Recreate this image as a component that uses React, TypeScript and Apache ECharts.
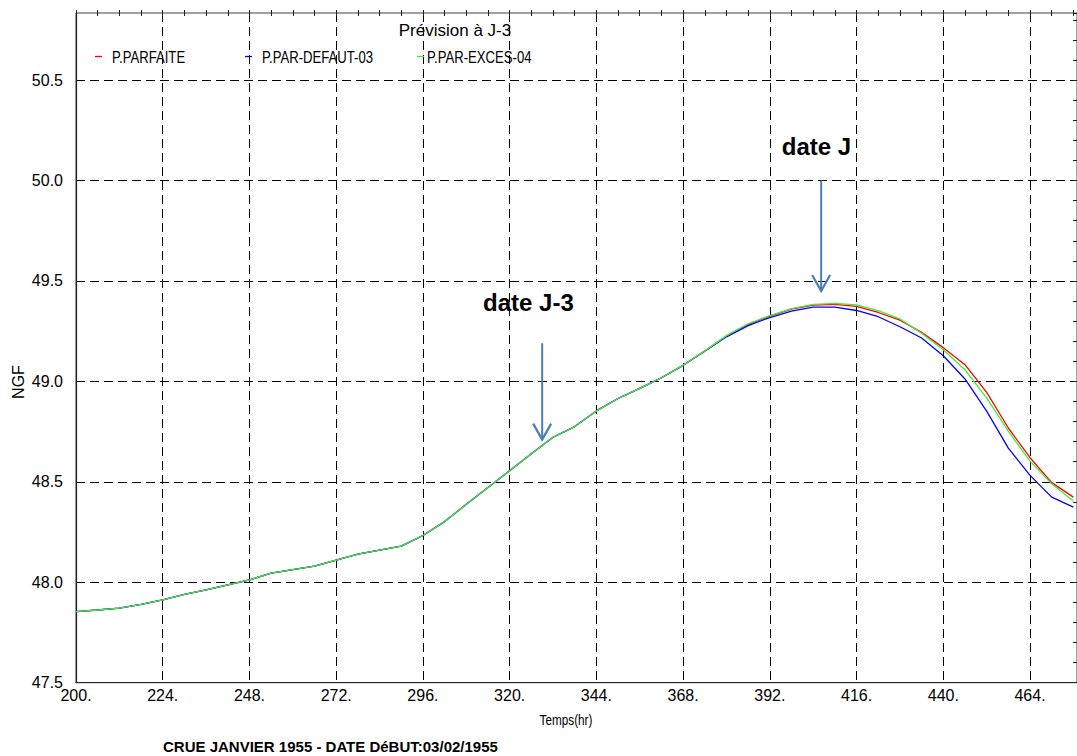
import React, { useEffect, useRef } from "react";
import * as echarts from "echarts";

// Time (hours)
const hours = [
  200, 206, 212, 218, 224, 230, 236, 242, 248, 254, 260, 266, 272, 278, 284, 290,
  296, 302, 308, 314, 320, 326, 332, 338, 344, 350, 356, 362, 368, 374, 380, 386,
  392, 398, 404, 410, 416, 422, 428, 434, 440, 446, 452, 458, 464, 470, 476,
];

// Water level (NGF)
const parfaite = [
  47.854, 47.862, 47.871, 47.89, 47.912, 47.94, 47.962, 47.987, 48.012, 48.045, 48.063, 48.08, 48.11, 48.14, 48.16, 48.18,
  48.233, 48.302, 48.388, 48.472, 48.555, 48.64, 48.722, 48.775, 48.853, 48.915, 48.965, 49.018, 49.08, 49.152, 49.226, 49.284,
  49.325, 49.36, 49.38, 49.383, 49.373, 49.343, 49.305, 49.244, 49.168, 49.083, 48.945, 48.768, 48.62, 48.496, 48.424,
];
const parDefaut = [
  47.854, 47.862, 47.871, 47.89, 47.912, 47.94, 47.962, 47.987, 48.012, 48.045, 48.063, 48.08, 48.11, 48.14, 48.16, 48.18,
  48.233, 48.302, 48.388, 48.472, 48.555, 48.64, 48.722, 48.775, 48.853, 48.915, 48.965, 49.018, 49.08, 49.15, 49.222, 49.278,
  49.318, 49.35, 49.37, 49.37, 49.353, 49.322, 49.272, 49.216, 49.128, 49.012, 48.852, 48.668, 48.532, 48.424, 48.374,
];
const parExces = [
  47.854, 47.862, 47.871, 47.89, 47.912, 47.94, 47.962, 47.987, 48.012, 48.045, 48.063, 48.08, 48.11, 48.14, 48.16, 48.18,
  48.233, 48.302, 48.388, 48.472, 48.555, 48.64, 48.722, 48.775, 48.853, 48.915, 48.965, 49.018, 49.08, 49.152, 49.228, 49.287,
  49.328, 49.362, 49.383, 49.388, 49.381, 49.352, 49.311, 49.24, 49.158, 49.058, 48.918, 48.752, 48.603, 48.49, 48.404,
];

const seriesNames = ["P.PARFAITE", "P.PAR-DEFAUT-03", "P.PAR-EXCES-04"];
const seriesColors = ["#ff0000", "#0000ff", "#3fef3f"];
const seriesValues = [parfaite, parDefaut, parExces];
const legendIconX = [95, 245, 417];
const legendTextX = [112, 262, 427];

// Axis ranges
const xMin = 200;
const xMax = 477;
const xStep = 24;
const yMin = 47.5;
const yMax = 50.834;
const yStep = 0.5;

const chartTitle = "Prévision à J-3";
const xAxisTitle = "Temps(hr)";
const yAxisTitle = "NGF";
const caption = "CRUE JANVIER 1955 - DATE DéBUT:03/02/1955";

// Annotations (data coordinates)
const arrowDefs = [
  { t: 329, from: 49.19, to: 48.71 },
  { t: 406.2, from: 50.0, to: 49.45 },
];
const noteDefs = [
  { text: "date J-3", t: 325.2, v: 49.392 },
  { text: "date J", t: 404.9, v: 50.169 },
];

const FONT = "'Liberation Sans', Arial, Helvetica, sans-serif";

export default function App() {
  const ref = useRef<HTMLDivElement>(null);

  useEffect(() => {
    if (!ref.current) return;
    const chart = echarts.init(ref.current, null, { renderer: "svg" });

    const baseX = {
      type: "value" as const,
      min: xMin,
      max: xMax,
      gridIndex: 0,
    };
    const baseY = {
      type: "value" as const,
      min: yMin,
      max: yMax,
      gridIndex: 0,
    };

    const gridLine = { color: "#000", type: [9, 5], width: 1 };

    const option: any = {
      animation: false,
      backgroundColor: "#ffffff",
      grid: {
        left: 76,
        top: 13,
        right: 0,
        bottom: 73.3,
        show: true,
        borderColor: "#444",
        borderWidth: 1,
        backgroundColor: "transparent",
      },
      xAxis: [
        {
          ...baseX,
          interval: xStep,
          axisLine: { show: true, lineStyle: { color: "#222", width: 1.2 } },
          axisTick: { show: false },
          axisLabel: {
            show: true,
            fontSize: 16,
            fontFamily: FONT,
            color: "#000",
            margin: 5,
            showMaxLabel: false,
            formatter: (v: number) => `${v}.`,
          },
          splitLine: {
            show: true,
            showMinLine: false,
            showMaxLine: false,
            lineStyle: gridLine,
          },
        },
        {
          ...baseX,
          interval: 6,
          axisLine: { show: false },
          axisTick: { show: true, inside: true, length: 3, lineStyle: { color: "#222" } },
          axisLabel: { show: false },
          splitLine: { show: false },
        },
        {
          ...baseX,
          interval: 6,
          axisLine: { show: false },
          axisTick: { show: true, inside: false, length: 3, lineStyle: { color: "#222" } },
          axisLabel: { show: false },
          splitLine: { show: false },
        },
      ],
      yAxis: [
        {
          ...baseY,
          interval: yStep,
          axisLine: { show: true, lineStyle: { color: "#222", width: 1.2 } },
          axisTick: { show: false },
          axisLabel: {
            show: true,
            fontSize: 16,
            fontFamily: FONT,
            color: "#000",
            margin: 13,
            showMaxLabel: false,
            formatter: (v: number) => v.toFixed(1),
          },
          splitLine: {
            show: true,
            showMinLine: false,
            showMaxLine: false,
            lineStyle: gridLine,
          },
        },
        {
          ...baseY,
          interval: 0.1,
          axisLine: { show: false },
          axisTick: { show: true, inside: true, length: 4, lineStyle: { color: "#222" } },
          axisLabel: { show: false },
          splitLine: { show: false },
        },
        {
          ...baseY,
          interval: 0.1,
          axisLine: { show: false },
          axisTick: { show: true, inside: false, length: 4, lineStyle: { color: "#222" } },
          axisLabel: { show: false },
          splitLine: { show: false },
        },
      ],
      series: seriesNames.map((n, i) => ({
        name: n,
        type: "line",
        xAxisIndex: 0,
        yAxisIndex: 0,
        data: hours.map((h, k) => [h, seriesValues[i][k]]),
        showSymbol: false,
        symbol: "none",
        color: seriesColors[i],
        lineStyle: { color: seriesColors[i], width: 1.3 },
        z: 3 + i,
      })),
    };

    chart.setOption(option);

    const toPx = (t: number, v: number) =>
      chart.convertToPixel({ seriesIndex: 0 }, [t, v]) as number[];

    const graphics: any[] = [
      {
        type: "text",
        x: 455,
        y: 30,
        style: {
          text: chartTitle,
          fontSize: 17,
          fontFamily: FONT,
          fill: "#000",
          align: "center",
          verticalAlign: "middle",
        },
        z: 10,
      },
      {
        type: "text",
        x: 566,
        y: 720,
        scaleX: 0.84,
        style: {
          text: xAxisTitle,
          fontSize: 14,
          fontFamily: FONT,
          fill: "#000",
          align: "center",
          verticalAlign: "middle",
        },
      },
      {
        type: "text",
        x: 18,
        y: 382,
        rotation: Math.PI / 2,
        style: {
          text: yAxisTitle,
          fontSize: 16,
          fontFamily: FONT,
          fill: "#000",
          align: "center",
          verticalAlign: "middle",
        },
      },
      {
        type: "text",
        x: 163,
        y: 746,
        style: {
          text: caption,
          fontSize: 15,
          fontWeight: "bold",
          fontFamily: FONT,
          fill: "#000",
          align: "left",
          verticalAlign: "middle",
        },
      },
    ];

    // Legend
    seriesNames.forEach((n, i) => {
      graphics.push({
        type: "line",
        shape: { x1: legendIconX[i], y1: 56.5, x2: legendIconX[i] + 7, y2: 56.5 },
        style: { stroke: seriesColors[i], lineWidth: 1.3 },
        z: 10,
      });
      graphics.push({
        type: "text",
        x: legendTextX[i],
        y: 58,
        scaleX: 0.82,
        style: {
          text: n,
          fontSize: 16,
          fontFamily: FONT,
          fill: "#000",
          align: "left",
          verticalAlign: "middle",
        },
        z: 10,
      });
    });

    arrowDefs.forEach((a) => {
      const top = toPx(a.t, a.from);
      const tip = toPx(a.t, a.to);
      graphics.push({
        type: "line",
        shape: { x1: top[0], y1: top[1], x2: tip[0], y2: tip[1] },
        style: { stroke: "#4a7ebb", lineWidth: 2 },
        z: 20,
      });
      graphics.push({
        type: "polyline",
        shape: {
          points: [
            [tip[0] - 9, tip[1] - 16],
            [tip[0], tip[1]],
            [tip[0] + 9, tip[1] - 16],
          ],
        },
        style: { stroke: "#4a7ebb", lineWidth: 2.2, fill: null },
        z: 20,
      });
    });

    noteDefs.forEach((n) => {
      const p = toPx(n.t, n.v);
      graphics.push({
        type: "text",
        x: p[0],
        y: p[1],
        style: {
          text: n.text,
          fontSize: 24,
          fontWeight: "bold",
          fontFamily: FONT,
          fill: "#000",
          align: "center",
          verticalAlign: "middle",
        },
        z: 20,
      });
    });

    chart.setOption({ graphic: graphics });

    return () => {
      chart.dispose();
    };
  }, []);

  return (
    <div
      ref={ref}
      style={{ position: "fixed", left: 0, top: 0, width: 1077, height: 756, background: "#fff" }}
    />
  );
}
